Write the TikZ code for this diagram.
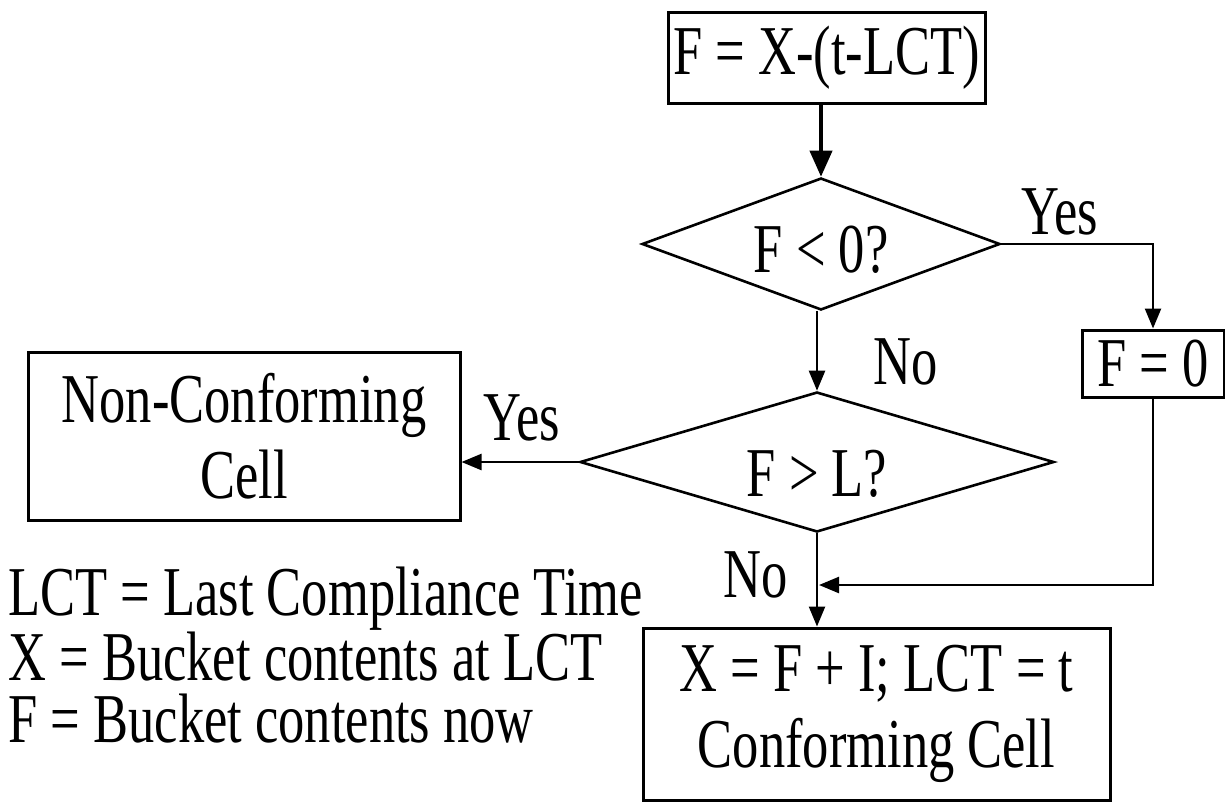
\documentclass[tikz,border=0pt]{standalone}
\usepackage{fontspec}
\setmainfont{Liberation Serif}[FakeStretch=0.75]
\usetikzlibrary{arrows.meta,shapes.geometric}
\begin{document}
\begin{tikzpicture}[x=0.5pt,y=-0.5pt,
  every node/.style={font=\fontsize{35}{40}\selectfont, inner sep=0pt},
  box/.style={draw, line width=1.5pt, rectangle, align=center},
  decision/.style={draw, line width=1.3pt, diamond, inner sep=0pt},
  flow/.style={line width=1.2pt, -{Triangle[length=10pt,width=8pt]}},
  bigflow/.style={line width=2pt, -{Triangle[length=13pt,width=11pt]}},
  lbl/.style={anchor=center},
  legend/.style={anchor=base west, align=left, font=\fontsize{35}{30.7}\selectfont}]
\useasboundingbox (0,0) rectangle (1225,804);
\node[box, minimum width=158.5pt, minimum height=45.5pt] (top) at (826.5,57.5) {F = X-(t-LCT)};
\node[decision, minimum width=179pt, minimum height=66pt] (d1) at (821,244) {};
\node at (821,250) {F < 0?};
\node[box, minimum width=71pt, minimum height=33.5pt] (f0) at (1153,363.5) {F = 0};
\node[decision, minimum width=237pt, minimum height=70pt] (d2) at (817,462) {};
\node at (817,474) {F > L?};
\node[box, minimum width=216pt, minimum height=84pt] (nc) at (244,436) {Non-Conforming\\[-2pt]Cell};
\node[box, minimum width=233.5pt, minimum height=86pt] (cc) at (876.5,714) {X = F + I; LCT = t\\[-2pt]Conforming Cell};
\draw[bigflow] (top.south -| d1.north) -- (d1.north);
\draw[flow] (d1.east) -| (f0.north);
\draw[flow] (d1.south -| d2.north) -- (d2.north);
\draw[flow] (d2.west) -- (d2.west -| nc.east);
\draw[flow] (d2.south) -- (d2.south |- cc.north);
\coordinate (j) at (819,585);
\draw[flow] (f0.south) |- (j);
\node[lbl] (y1) at (1060,212) {Yes};
\node[lbl] (n1) at (906,362) {No};
\node[lbl] (y2) at (522,418) {Yes};
\node[lbl] (n2) at (756,575) {No};
\node[legend] (leg) at (8,742) {LCT = Last Compliance Time\\X = Bucket contents at LCT\\F = Bucket contents now};
\end{tikzpicture}
\end{document}
